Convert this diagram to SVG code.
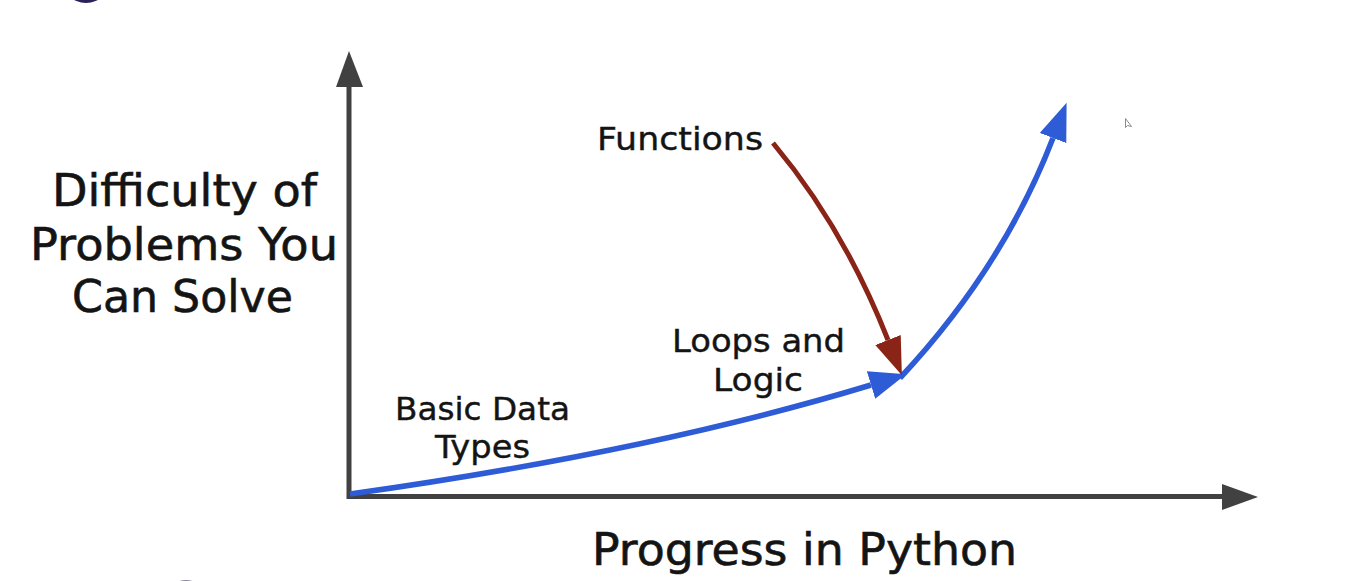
<svg xmlns="http://www.w3.org/2000/svg" width="1361" height="581" viewBox="0 0 1361 581">
  <style>
    .t { font-family: "DejaVu Sans", "Liberation Sans", sans-serif; fill: #141414; stroke: #141414; stroke-width: 0.6; text-anchor: middle; }
    .big { font-size: 45px; }
    .mid { font-size: 44px; }
    .lbl { font-size: 32px; stroke-width: 0.4; }
    .axis { fill: none; stroke: #414141; stroke-width: 5; stroke-linejoin: miter; }
    .blue { fill: none; stroke: #2e5bd6; stroke-width: 5.5; }
    .red { fill: none; stroke: #8a2417; stroke-width: 5; }
  </style>
  <defs>
    <marker id="headBlue" markerUnits="userSpaceOnUse" markerWidth="40" markerHeight="30" refX="0" refY="13" orient="auto" viewBox="0 0 36 26">
      <polygon points="0,0 33,13 0,26" fill="#2e5bd6"/>
    </marker>
    <marker id="headBlue2" markerUnits="userSpaceOnUse" markerWidth="40" markerHeight="30" refX="0" refY="13.5" orient="auto" viewBox="0 0 38 27">
      <polygon points="0,0 36,13.5 0,27" fill="#2e5bd6"/>
    </marker>
    <marker id="headRed" markerUnits="userSpaceOnUse" markerWidth="40" markerHeight="30" refX="0" refY="13" orient="auto" viewBox="0 0 38 26">
      <polygon points="0,0 36,13 0,26" fill="#8a2417"/>
    </marker>
  </defs>

  <rect x="0" y="0" width="1361" height="581" fill="#ffffff"/>

  <!-- decorative partial circles at edges -->
  <circle cx="86" cy="-22" r="25" fill="#29205c"/>
  <circle cx="186" cy="602" r="22" fill="#8a86a0"/>

  <!-- mouse cursor -->
  <polygon points="1125.5,118.5 1125.5,127.5 1127.5,125.5 1131.5,126.5" fill="#ffffff" stroke="#8a8a8a" stroke-width="1"/>

  <g id="axes">
    <path class="axis" d="M349,87 L349,496.5 L1222,496.5"/>
    <polygon points="349,51 336,87 363,87" fill="#414141"/>
    <polygon points="1258,497 1222,484 1222,510" fill="#414141"/>
  </g>

  <g id="connectors">
    <path class="blue" d="M350,494 Q650,452 871,385" marker-end="url(#headBlue)"/>
    <path class="blue" d="M900,378 Q1003,268 1053,138" marker-end="url(#headBlue2)"/>
    <path class="red" d="M773,143 Q844,228 888,340" marker-end="url(#headRed)"/>
  </g>

  <g id="y-label">
    <text class="t big" x="184.5" y="206" textLength="265" lengthAdjust="spacingAndGlyphs">Difficulty of</text>
    <text class="t big" x="184" y="260" textLength="308" lengthAdjust="spacingAndGlyphs">Problems You</text>
    <text class="t big" x="182.5" y="312" textLength="221" lengthAdjust="spacingAndGlyphs">Can Solve</text>
  </g>

  <g id="x-label">
    <text class="t mid" x="804.5" y="565" textLength="425" lengthAdjust="spacingAndGlyphs">Progress in Python</text>
  </g>

  <g id="functions">
    <text class="t lbl" x="680" y="150" textLength="166" lengthAdjust="spacingAndGlyphs">Functions</text>
  </g>

  <g id="loops">
    <text class="t lbl" x="758.5" y="352" textLength="173" lengthAdjust="spacingAndGlyphs">Loops and</text>
    <text class="t lbl" x="758" y="391" textLength="90" lengthAdjust="spacingAndGlyphs">Logic</text>
  </g>

  <g id="basic">
    <text class="t lbl" x="482.5" y="420" textLength="175" lengthAdjust="spacingAndGlyphs">Basic Data</text>
    <text class="t lbl" x="482.5" y="458" textLength="95" lengthAdjust="spacingAndGlyphs">Types</text>
  </g>
</svg>
